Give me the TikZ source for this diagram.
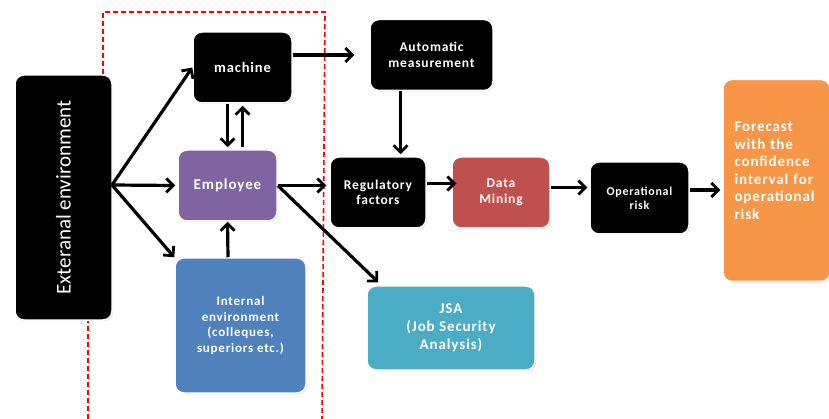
\documentclass[tikz,border=0pt]{standalone}
\usepackage{fontspec}
\setmainfont{Carlito}
\newfontfamily\boxfont{Carlito}[LetterSpace=6]
\usepackage{tikz}
\usetikzlibrary{arrows.meta,positioning,shadows}

\definecolor{empcol}{HTML}{8064A2}
\definecolor{intcol}{HTML}{4F81BD}
\definecolor{dmcol}{HTML}{C0504D}
\definecolor{jsacol}{HTML}{4BACC6}
\definecolor{fccol}{HTML}{F79646}

\tikzset{
  box/.style={rounded corners=9pt, draw=white, line width=1.5pt, text=white,
    align=center, inner sep=2pt,
    drop shadow={opacity=0.3, shadow xshift=1pt, shadow yshift=-1pt},
    font=\boxfont\bfseries\fontsize{13.5}{15.5}\selectfont},
  blackbox/.style={box, fill=black},
  flow/.style={line width=3.2pt, -{Straight Barb[length=7pt,width=14pt,line width=2.8pt]}}
}

\begin{document}
\begin{tikzpicture}[x=1pt,y=-1pt]
        \useasboundingbox (0,0) rectangle (829,419);
        % Dashed frame round machine and employee
        \draw[red, line width=1.6pt, dash pattern=on 5pt off 3pt]
            (88,419) -- (88,200) -- (103,200) -- (103,12) -- (325,12) -- (322,419);
        % Boxes
        \node[blackbox, minimum width=97pt, minimum height=245pt, font=\rmfamily\fontsize{21}{24}\selectfont]
            (ext) at (63.5,197.5) {\rotatebox{90}{Exteranal environment}};
        \node[blackbox, minimum width=99pt, minimum height=71pt, font=\boxfont\bfseries\fontsize{14.5}{16}\selectfont]
            (mach) at (242.5,67.5) {machine};
        \node[box, fill=empcol, minimum width=99pt, minimum height=71pt, font=\boxfont\bfseries\fontsize{15}{17}\selectfont]
            (emp) at (227.5,185.5) {Employee};
        \node[box, fill=intcol, minimum width=131pt, minimum height=135pt, font=\boxfont\bfseries\fontsize{13}{15.5}\selectfont]
            (inter) at (240.5,325.5) {Internal\\environment\\(colleques,\\superiors etc.)};
        \node[blackbox, minimum width=123pt, minimum height=71pt] (auto) at (431.5,55) {Automatic\\measurement};
        \node[blackbox, minimum width=96pt, minimum height=71pt] (reg) at (378,192.5) {Regulatory\\factors};
        \node[box, fill=dmcol, minimum width=98pt, minimum height=71pt] (dm) at (501,192.5) {Data\\Mining};
        \node[blackbox, minimum width=99pt, minimum height=72pt, font=\boxfont\bfseries\fontsize{12}{14}\selectfont]
            (oprisk) at (639.5,198) {Operational\\risk};
        \node[box, fill=jsacol, minimum width=168pt, minimum height=84pt, font=\boxfont\bfseries\fontsize{15}{18}\selectfont]
            (jsa) at (451,328) {JSA\\(Job Security\\Analysis)};
        \node[box, fill=fccol, minimum width=107pt, minimum height=202pt, align=left, text width=84pt,
            font=\boxfont\bfseries\fontsize{15}{17.5}\selectfont]
            (fc) at (776.5,180.5) {Forecast\\with the\\confidence\\interval for\\operational\\risk\\[2pt]\mbox{}};
        % Arrows
        \coordinate (fan) at (112,185);
        \draw[flow] (fan) -- (mach.west);
        \draw[flow] (fan) -- ([xshift=-2pt]emp.west);
        \draw[flow] (fan) -- (inter.north west);
        \draw[flow] ([xshift=-15pt]mach.south) -- ([yshift=2pt]emp.north);
        \draw[flow] ([xshift=15pt,yshift=2pt]emp.north) -- ([yshift=-2pt]mach.south);
        \draw[flow] ([xshift=-12.5pt]inter.north) -- (emp.south);
        \draw[flow] (mach.east |- auto.west) -- ([xshift=-15pt]auto.west);
        \draw[flow] ([xshift=-31pt]auto.south) -- ([xshift=-31pt,yshift=2pt]auto.south |- reg.north);
        \draw[flow] (emp.east) -- ([xshift=-3pt]emp.east -| reg.west);
        \draw[flow] (emp.east) -- ([xshift=12pt,yshift=3pt]jsa.north west);
        \draw[flow] ([yshift=9pt]reg.east) -- ([yshift=9pt,xshift=5pt]dm.west);
        \draw[flow] ([yshift=5pt]dm.east) -- ([yshift=5pt,xshift=-2pt]dm.east -| oprisk.west);
        \draw[flow] ([yshift=8pt]oprisk.east) -- ([yshift=8pt,xshift=-2pt]oprisk.east -| fc.west);
\end{tikzpicture}
\end{document}
